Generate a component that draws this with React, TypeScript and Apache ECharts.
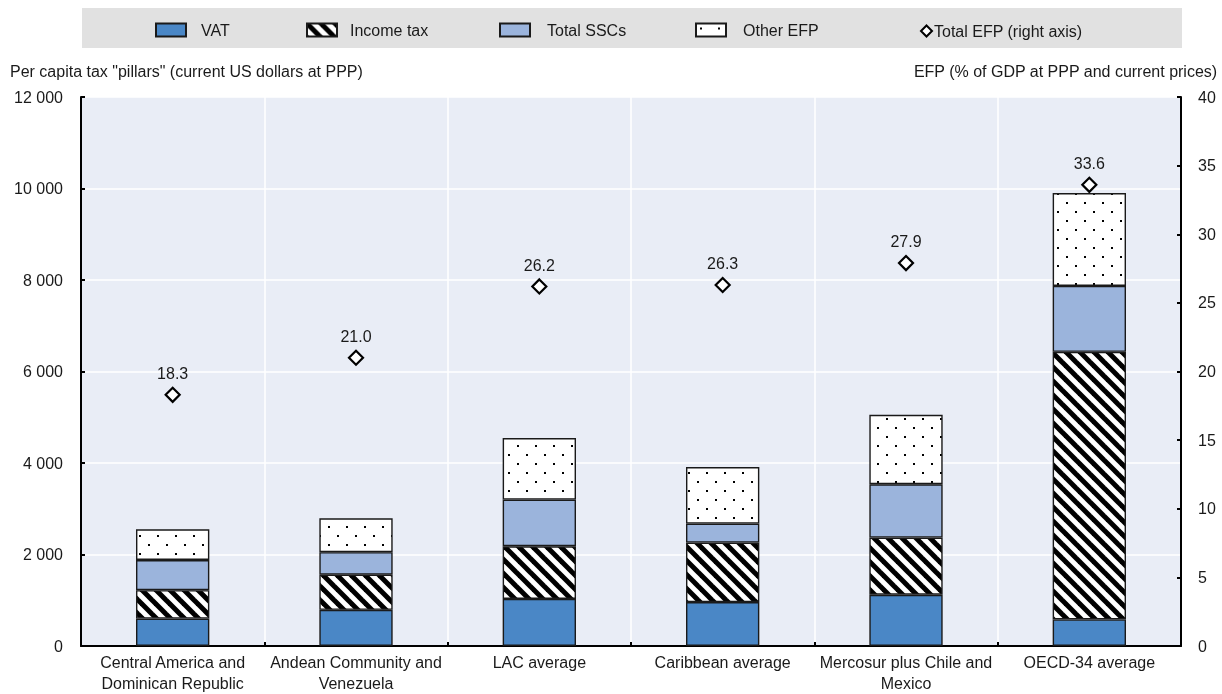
import React, { useEffect, useRef } from "react";
import * as echarts from "echarts";

const categories = [
  "Central America and\nDominican Republic",
  "Andean Community and\nVenezuela",
  "LAC average",
  "Caribbean average",
  "Mercosur plus Chile and\nMexico",
  "OECD-34 average",
];
const vat = [600, 790, 1030, 960, 1120, 580];
const incomeTax = [620, 770, 1150, 1300, 1250, 5850];
const totalSSCs = [660, 490, 1020, 415, 1165, 1440];
const otherEFP = [670, 740, 1345, 1235, 1520, 2030];
const totalEFP = [18.3, 21.0, 26.2, 26.3, 27.9, 33.6];
const leftTicks = [0, 2000, 4000, 6000, 8000, 10000, 12000];
const rightTicks = [0, 5, 10, 15, 20, 25, 30, 35, 40];

const FONT = "'Liberation Sans Narrow', 'Arial Narrow', 'Liberation Sans', Arial, sans-serif";
const TXT = "#1a1a1a";

function stripeCanvas() {
  const n = 14;
  const c = document.createElement("canvas");
  c.width = n;
  c.height = n;
  const ctx = c.getContext("2d")!;
  ctx.fillStyle = "#fff";
  ctx.fillRect(0, 0, n, n);
  ctx.strokeStyle = "#000";
  ctx.lineWidth = 5;
  for (const o of [-n, 0, n]) {
    ctx.beginPath();
    ctx.moveTo(o - 2, -2);
    ctx.lineTo(o + n + 2, n + 2);
    ctx.stroke();
  }
  return c;
}

function dotCanvas() {
  const c = document.createElement("canvas");
  c.width = 18;
  c.height = 18;
  const ctx = c.getContext("2d")!;
  ctx.fillStyle = "#fff";
  ctx.fillRect(0, 0, 18, 18);
  ctx.fillStyle = "#000";
  ctx.fillRect(4, 4, 2, 2);
  ctx.fillRect(13, 13, 2, 2);
  return c;
}

const fmt = (v: number) => String(v).replace(/\B(?=(\d{3})+(?!\d))/g, " ");

export default function App() {
  const ref = useRef<HTMLDivElement>(null);
  useEffect(() => {
    if (!ref.current) return;
    const chart = echarts.init(ref.current, undefined, { renderer: "svg" });
    const stripe = { image: stripeCanvas(), repeat: "repeat" } as any;
    const dots = { image: dotCanvas(), repeat: "repeat" } as any;
    const border = { borderColor: "#1a1a1a", borderWidth: 1.4 };

    const ts = (pl: number) => ({ fontFamily: FONT, fontSize: 16, color: TXT, padding: [0, 0, 0, pl] });
    const legendBase = {
      top: 22,
      padding: 0,
      itemWidth: 30,
      itemHeight: 13,
      selectedMode: false,
      icon: "rect",
    };

    const option: any = {
      animation: false,
      textStyle: { fontFamily: FONT },
      graphic: [
        {
          type: "rect",
          z: -10,
          shape: { x: 82, y: 8, width: 1100, height: 40 },
          style: { fill: "#e1e1e1" },
          silent: true,
        },
        {
          type: "text",
          left: 10,
          top: 63,
          style: {
            text: 'Per capita tax "pillars" (current US dollars at PPP)',
            fontFamily: FONT,
            fontSize: 16,
            fill: TXT,
          },
        },
        {
          type: "text",
          right: 4,
          top: 63,
          style: {
            text: "EFP (% of GDP at PPP and current prices)",
            fontFamily: FONT,
            fontSize: 16,
            fill: TXT,
          },
        },
      ],
      legend: [
        { ...legendBase, left: 155, data: ["VAT"], textStyle: ts(10) },
        { ...legendBase, left: 306, data: ["Income tax"], textStyle: ts(8) },
        { ...legendBase, left: 499, data: ["Total SSCs"], textStyle: ts(12) },
        { ...legendBase, left: 695, data: ["Other EFP"], textStyle: ts(12) },
        {
          ...legendBase,
          left: 920,
          top: 23,
          icon: "diamond",
          itemWidth: 11,
          itemHeight: 11,
          data: ["Total EFP (right axis)"],
          itemStyle: { borderWidth: 2, borderColor: "#000", color: "#fff" },
          textStyle: ts(-3),
        },
      ],
      grid: { left: 81, right: 41, top: 97, bottom: 47, backgroundColor: "#e9edf6", show: true, borderWidth: 0 },
      xAxis: {
        type: "category",
        data: categories,
        axisLine: { show: true, lineStyle: { color: "#000", width: 2 } },
        axisTick: { show: true, inside: true, length: 4, lineStyle: { color: "#000", width: 2 } },
        axisLabel: { fontFamily: FONT, fontSize: 16, color: TXT, lineHeight: 21, margin: 6, interval: 0 },
        splitLine: { show: true, lineStyle: { color: "#ffffff", width: 1.5 } },
      },
      yAxis: [
        {
          type: "value",
          min: leftTicks[0],
          max: leftTicks[leftTicks.length - 1],
          interval: leftTicks[1] - leftTicks[0],
          axisLine: { show: true, lineStyle: { color: "#000", width: 2 } },
          axisTick: { show: true, inside: true, length: 4, lineStyle: { color: "#000", width: 2 } },
          axisLabel: { fontFamily: FONT, fontSize: 16, color: TXT, margin: 18, formatter: (v: number) => fmt(v) },
          splitLine: { show: true, lineStyle: { color: "#ffffff", width: 1.5 } },
        },
        {
          type: "value",
          min: rightTicks[0],
          max: rightTicks[rightTicks.length - 1],
          interval: rightTicks[1] - rightTicks[0],
          position: "right",
          axisLine: { show: true, lineStyle: { color: "#000", width: 2 } },
          axisTick: { show: true, inside: true, length: 4, lineStyle: { color: "#000", width: 2 } },
          axisLabel: { fontFamily: FONT, fontSize: 16, color: TXT, margin: 17 },
          splitLine: { show: false },
        },
      ],
      series: [
        {
          name: "VAT",
          type: "bar",
          stack: "tax",
          barWidth: "40%",
          data: vat,
          itemStyle: { color: "#4a87c6", ...border },
        },
        {
          name: "Income tax",
          type: "bar",
          stack: "tax",
          data: incomeTax,
          itemStyle: { color: stripe, ...border },
        },
        {
          name: "Total SSCs",
          type: "bar",
          stack: "tax",
          data: totalSSCs,
          itemStyle: { color: "#9bb4dc", ...border },
        },
        {
          name: "Other EFP",
          type: "bar",
          stack: "tax",
          data: otherEFP,
          itemStyle: { color: dots, ...border },
        },
        {
          name: "Total EFP (right axis)",
          type: "scatter",
          yAxisIndex: 1,
          symbol: "diamond",
          symbolSize: 14,
          data: totalEFP,
          itemStyle: { color: "#fff", borderColor: "#000", borderWidth: 2.2, opacity: 1 },
          label: {
            show: true,
            position: "top",
            distance: 5,
            fontFamily: FONT,
            fontSize: 16,
            color: TXT,
            formatter: (p: any) => Number(p.value).toFixed(1),
          },
          z: 5,
        },
      ],
    };
    chart.setOption(option);
    return () => chart.dispose();
  }, []);
  return <div ref={ref} style={{ position: "fixed", left: 0, top: 0, width: 1222, height: 694 }} />;
}
